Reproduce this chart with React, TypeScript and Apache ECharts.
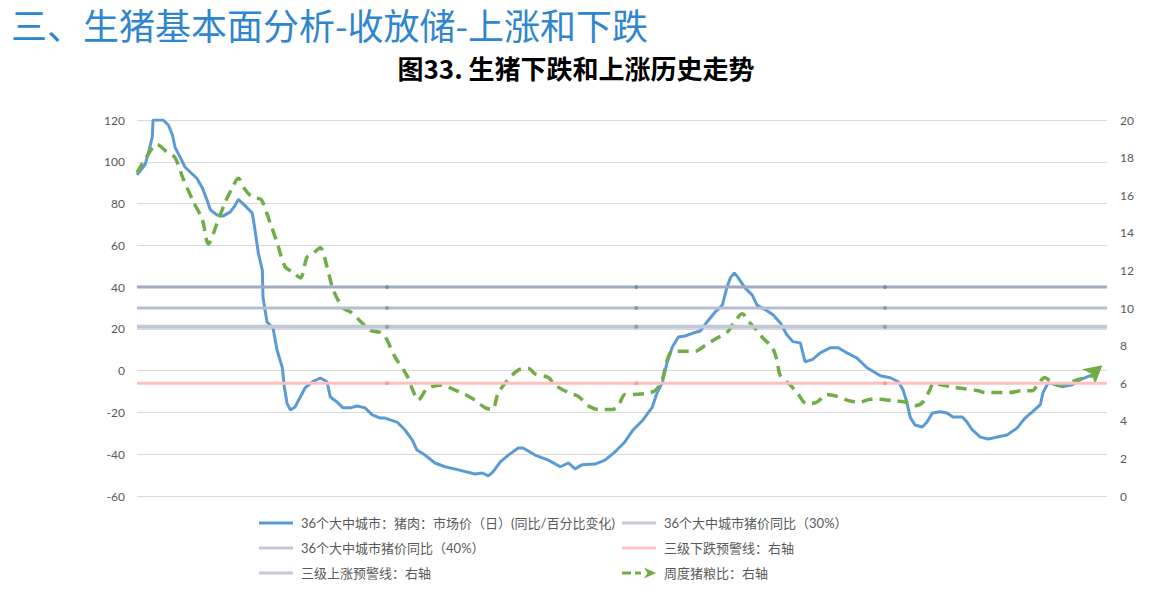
import React, { useEffect, useRef } from "react";
import * as echarts from "echarts";

// x dimension: day index from the start of the chart window
const priceDays = [0, 12, 17, 23, 24, 39, 47, 53, 57, 65, 72, 80, 90, 98, 105, 110, 120, 129, 140, 147, 152, 162, 173, 177, 182, 188, 189, 195, 204, 210, 218, 221, 225, 230, 237, 245, 252, 263, 275, 285, 290, 300, 309, 320, 330, 342, 353, 365, 372, 390, 402, 413, 420, 432, 447, 462, 482, 507, 518, 527, 534, 545, 557, 572, 579, 597, 617, 635, 647, 657, 668, 687, 702, 717, 732, 744, 759, 773, 780, 788, 795, 803, 812, 822, 834, 845, 855, 867, 878, 885, 890, 896, 902, 912, 923, 930, 945, 954, 965, 975, 984, 995, 1002, 1013, 1025, 1040, 1052, 1065, 1080, 1095, 1115, 1130, 1142, 1149, 1155, 1160, 1167, 1178, 1185, 1193, 1205, 1215, 1224, 1238, 1245, 1253, 1265, 1277, 1290, 1305, 1320, 1332, 1343, 1355, 1359, 1367, 1377, 1388, 1403, 1415, 1430, 1442];
const priceYoY = [93.7, 98.5, 104, 112, 120, 120, 117.6, 113, 107, 102, 97.5, 95, 92, 87.5, 81.7, 77, 74.5, 74, 76, 79, 82, 79, 75.4, 67.3, 56.3, 48, 35, 23.3, 20.4, 10, 1.4, -7.8, -15.5, -18.8, -17.4, -12.6, -8.3, -5.4, -3.5, -5.3, -12.6, -15, -17.8, -17.8, -16.9, -17.8, -21.2, -22.7, -22.7, -24.6, -28.4, -33.2, -38, -40.4, -44.2, -46, -47.5, -49.5, -49, -50.4, -48.5, -43.7, -40.4, -37, -37, -40.4, -42.8, -46, -44.2, -47, -45, -44.7, -42.8, -38.9, -34, -28.4, -23.6, -17.4, -10.7, -5.7, 3.8, 11.3, 16.1, 16.6, 18, 19, 23.3, 28, 31.4, 40, 44.4, 46.8, 44.4, 39.6, 36.2, 31.4, 28.7, 26.8, 22.8, 17.1, 13.9, 13.3, 4.3, 5.3, 8.5, 11, 11, 8.5, 6, 1.4, -2.4, -3.4, -5.3, -9.1, -15.4, -22.5, -26, -27, -24.6, -20.3, -19.7, -20.3, -22.2, -22.2, -24.6, -28.4, -31.8, -32.7, -31.8, -30.8, -27.5, -22.7, -19.7, -16.3, -10.5, -5.7, -6.7, -7.7, -6.7, -4.3, -2.4, -1.0];

const ratioDays = [0, 12, 30, 45, 57, 69, 84, 98, 107, 120, 132, 143, 152, 162, 173, 185, 189, 200, 210, 222, 234, 245, 255, 264, 275, 285, 294, 309, 320, 335, 350, 365, 372, 387, 405, 414, 422, 435, 458, 473, 492, 507, 522, 533, 542, 557, 572, 587, 597, 617, 627, 647, 662, 677, 692, 713, 722, 732, 744, 770, 780, 788, 795, 803, 818, 837, 852, 870, 885, 897, 908, 917, 930, 939, 953, 960, 965, 980, 990, 1005, 1020, 1035, 1050, 1070, 1085, 1100, 1112, 1137, 1152, 1167, 1179, 1190, 1194, 1208, 1223, 1242, 1262, 1272, 1292, 1307, 1328, 1343, 1352, 1362, 1370, 1382, 1397, 1412, 1433, 1448];
const hogGrainRatio = [17.2, 17.9, 18.7, 18.3, 18.0, 16.9, 15.7, 14.7, 13.4, 14.5, 15.6, 16.4, 16.9, 16.3, 15.9, 15.8, 15.6, 14.5, 13.5, 12.2, 11.9, 11.6, 12.7, 12.9, 13.2, 12.2, 11.0, 10.0, 9.8, 9.3, 8.8, 8.7, 8.5, 7.4, 6.4, 5.6, 5.1, 5.7, 5.9, 5.7, 5.4, 5.1, 4.7, 4.6, 5.5, 6.2, 6.7, 6.8, 6.5, 6.3, 5.9, 5.5, 5.3, 4.8, 4.6, 4.6, 4.8, 5.4, 5.4, 5.5, 5.7, 6.2, 7.2, 7.7, 7.7, 7.7, 8.0, 8.4, 8.7, 9.3, 9.7, 9.3, 8.8, 8.4, 7.9, 7.2, 6.4, 5.9, 5.5, 4.9, 5.0, 5.4, 5.3, 5.05, 5.0, 5.15, 5.15, 5.05, 5.0, 4.8, 5.0, 5.7, 6.0, 5.9, 5.8, 5.7, 5.6, 5.5, 5.5, 5.5, 5.6, 5.6, 6.0, 6.3, 6.1, 5.9, 6.0, 6.2, 6.4, 6.95];

const thresholdDays = [0, 375, 749, 1122, 1455];
const yoy40 = 40;
const yoy30 = 30;
const fallWarning = 6;
const riseWarning = 9;

const leftTicks = { min: -60, max: 120, interval: 20 };
const rightTicks = { min: 0, max: 20, interval: 2 };
const dayRange = { min: 0, max: 1455 };

const NAME_PRICE = "36个大中城市：猪肉：市场价（日）(同比/百分比变化)";
const NAME_30 = "36个大中城市猪价同比（30%）";
const NAME_40 = "36个大中城市猪价同比（40%）";
const NAME_FALL = "三级下跌预警线：右轴";
const NAME_RISE = "三级上涨预警线：右轴";
const NAME_RATIO = "周度猪粮比：右轴";

const CORNERS = "M0,0h0.01v0.01H0z M34,14h-0.01v-0.01H34z ";
const LINE_ICON = "path://" + CORNERS + "M0,5.5h34v3H0z";
const ARROW_ICON = "path://" + CORNERS + "M0,5.5h9v3H0z M13,5.5h6v3h-6z M22,1.5L34,7L22,12.5L25.5,7z";

const FONT = "Lato, 'Noto Sans CJK SC', sans-serif";

function pairs(xs: number[], ys: number[]) {
  return xs.map((x, i) => [x, ys[i]]);
}

function constLine(v: number, dotColor: string) {
  return thresholdDays.map((d, i) => {
    const inner = i > 0 && i < thresholdDays.length - 1;
    return {
      value: [d, v],
      symbol: inner ? "circle" : "none",
      symbolSize: 4,
      itemStyle: { color: dotColor },
    };
  });
}

export default function App() {
  const ref = useRef<HTMLDivElement>(null);
  useEffect(() => {
    if (!ref.current) return;
    const chart = echarts.init(ref.current, undefined, { renderer: "svg" });

    const ratioData: any[] = pairs(ratioDays, hogGrainRatio);
    const last = ratioData.length - 1;
    ratioData[last] = {
      value: ratioData[last],
      symbol: "arrow",
      symbolSize: [15, 18],
      symbolRotate: -50,
      itemStyle: { color: "#70ad47" },
    };

    const legendText = { fontSize: 13, color: "#595959", fontFamily: FONT, padding: [0, 0, 0, 3] };

    const option: any = {
      animation: false,
      backgroundColor: "#ffffff",
      title: [
        {
          text: "三、生猪基本面分析-收放储-上涨和下跌",
          left: 11,
          top: 6,
          padding: 0,
          textStyle: { fontSize: 36, lineHeight: 36, fontWeight: "normal", color: "#2f86cf", fontFamily: "'Noto Sans CJK SC', sans-serif" },
        },
        {
          text: "图33. 生猪下跌和上涨历史走势",
          left: "center",
          top: 54,
          padding: 0,
          textStyle: { fontSize: 26, fontWeight: "bold", color: "#000000", fontFamily: "'Noto Sans CJK SC', sans-serif" },
        },
      ],
      grid: { left: 137, right: 45, top: 120, bottom: 101, containLabel: false },
      legend: [
        {
          orient: "vertical",
          left: 259,
          top: 516,
          itemWidth: 34,
          itemHeight: 14,
          itemGap: 11,
          padding: 0,
          textStyle: legendText,
          data: [
            { name: NAME_PRICE, icon: LINE_ICON },
            { name: NAME_40, icon: LINE_ICON },
            { name: NAME_RISE, icon: LINE_ICON },
          ],
        },
        {
          orient: "vertical",
          left: 622,
          top: 516,
          itemWidth: 34,
          itemHeight: 14,
          itemGap: 11,
          padding: 0,
          textStyle: legendText,
          data: [
            { name: NAME_30, icon: LINE_ICON },
            { name: NAME_FALL, icon: LINE_ICON },
            { name: NAME_RATIO, icon: ARROW_ICON },
          ],
        },
      ],
      xAxis: {
        type: "value",
        min: dayRange.min,
        max: dayRange.max,
        show: false,
        splitLine: { show: false },
      },
      yAxis: [
        {
          type: "value",
          position: "left",
          min: leftTicks.min,
          max: leftTicks.max,
          interval: leftTicks.interval,
          axisLine: { show: false },
          axisTick: { show: false },
          axisLabel: { color: "#595959", fontSize: 12, margin: 12, fontFamily: FONT },
          splitLine: { lineStyle: { color: "#d9d9d9", width: 1 } },
        },
        {
          type: "value",
          position: "right",
          min: rightTicks.min,
          max: rightTicks.max,
          interval: rightTicks.interval,
          axisLine: { show: false },
          axisTick: { show: false },
          axisLabel: { color: "#595959", fontSize: 12, margin: 13, fontFamily: FONT },
          splitLine: { show: false },
        },
      ],
      series: [
        {
          name: NAME_PRICE,
          type: "line",
          yAxisIndex: 0,
          data: pairs(priceDays, priceYoY),
          symbol: "none",
          color: "#5b9bd5",
          lineStyle: { color: "#5b9bd5", width: 3 },
          itemStyle: { color: "#5b9bd5" },
          z: 2,
        },
        {
          name: NAME_RATIO,
          type: "line",
          yAxisIndex: 1,
          data: ratioData,
          symbol: "none",
          showSymbol: true,
          smooth: 0.3,
          color: "#70ad47",
          lineStyle: { color: "#70ad47", width: 3.5, type: [11, 7] },
          itemStyle: { color: "#70ad47" },
          z: 3,
        },
        {
          name: NAME_40,
          type: "line",
          yAxisIndex: 0,
          data: constLine(yoy40, "#7f8aa8"),
          symbol: "none",
          showSymbol: true,
          color: "#c3c9d7",
          lineStyle: { color: "#a0aac2", width: 3 },
          itemStyle: { color: "#c3c9d7" },
          z: 4,
        },
        {
          name: NAME_30,
          type: "line",
          yAxisIndex: 0,
          data: constLine(yoy30, "#8f9ab5"),
          symbol: "none",
          showSymbol: true,
          color: "#c3c9d7",
          lineStyle: { color: "#b6bed1", width: 3 },
          itemStyle: { color: "#c3c9d7" },
          z: 4,
        },
        {
          name: NAME_RISE,
          type: "line",
          yAxisIndex: 1,
          data: constLine(riseWarning, "#8f9ab5"),
          symbol: "none",
          showSymbol: true,
          color: "#c3c9d7",
          lineStyle: { color: "#c0c7d8", width: 4 },
          itemStyle: { color: "#c3c9d7" },
          z: 4,
        },
        {
          name: NAME_FALL,
          type: "line",
          yAxisIndex: 1,
          data: constLine(fallWarning, "#ff9a9a"),
          symbol: "none",
          showSymbol: true,
          color: "#ffc4c4",
          lineStyle: { color: "#ffbfbf", width: 3 },
          itemStyle: { color: "#ffc4c4" },
          z: 4,
        },
      ],
    };
    chart.setOption(option);
    return () => chart.dispose();
  }, []);

  return (
    <div
      ref={ref}
      style={{ position: "absolute", left: 0, top: 0, width: 1152, height: 597, background: "#fff" }}
    />
  );
}
